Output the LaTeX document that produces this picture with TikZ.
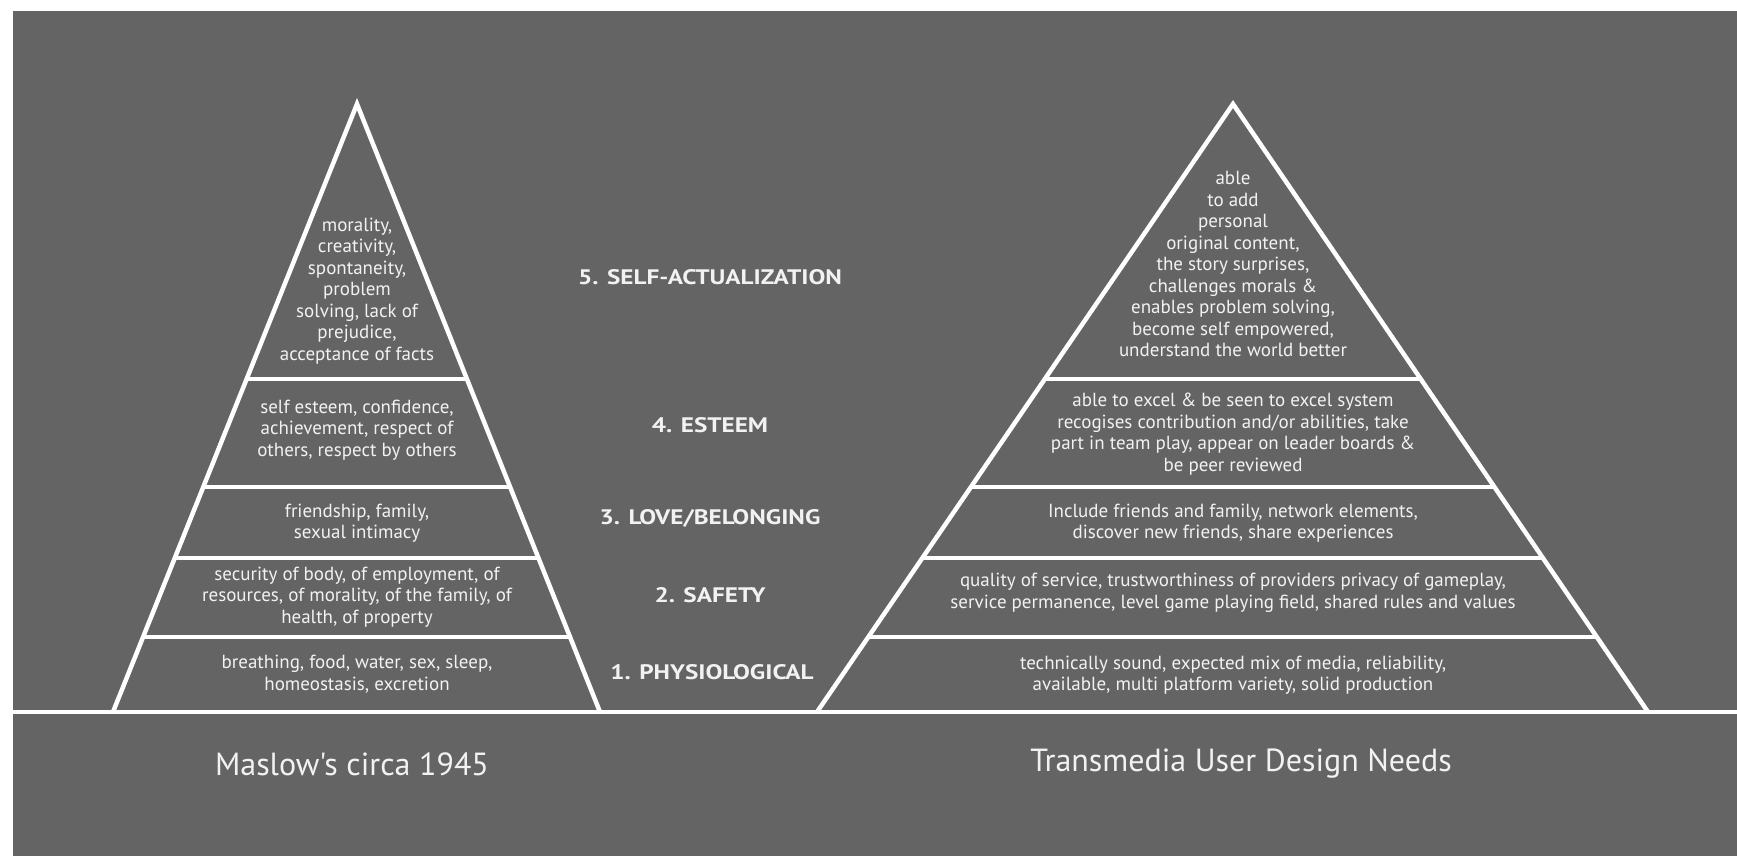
\documentclass[tikz,border=0pt]{standalone}
\usepackage{fontspec}
\setmainfont{PT Sans}
\newfontfamily\condfont{PT Sans}
\newfontfamily\levelfont[FakeStretch=1.2]{PT Sans}
\usetikzlibrary{calc}
\definecolor{bg}{HTML}{646464}
\definecolor{ink}{HTML}{F2F2F2}
\begin{document}
\begin{tikzpicture}[x=1pt,y=-1pt,
  wline/.style={draw=white,line width=4.5pt},
  tiertext/.style={text=ink,align=center,font=\condfont\fontsize{19}{21.5}\selectfont,inner sep=0pt},
  levellabel/.style={text=ink,font=\levelfont\bfseries\fontsize{21}{24}\selectfont,inner sep=0pt},
  captionlabel/.style={text=ink,font=\condfont\fontsize{32}{36}\selectfont,inner sep=0pt}]
\useasboundingbox (0,0) rectangle (1737,856);
\fill[white] (0,0) rectangle (1737,856);
\fill[bg] (13,11) rectangle (1737,856);
% key points
\coordinate (LA) at (357,104);
\coordinate (LL) at (113,712);
\coordinate (LR) at (600,712);
\coordinate (RA) at (1233,104);
\coordinate (RL) at (817,712);
\coordinate (RR) at (1648,712);
\coordinate (G0) at (13,712);
\coordinate (G1) at (1737,712);
% pyramids
\draw[wline] (LL) -- (LA) -- (LR);
\draw[wline] (RL) -- (RA) -- (RR);
\foreach \t in {0.4523,0.6299,0.7467,0.8766}{
  \draw[wline] ($(LA)!\t!(LL)$) -- ($(LA)!\t!(LR)$);
  \draw[wline] ($(RA)!\t!(RL)$) -- ($(RA)!\t!(RR)$);
}
\draw[wline] (G0) -- (G1);
% left texts
\node[tiertext] (L5) at (357,291) {morality,\\creativity,\\spontaneity,\\problem\\solving, lack of\\prejudice,\\acceptance of facts};
\node[tiertext] (L4) at (357,430) {self esteem, confidence,\\achievement, respect of\\others, respect by others};
\node[tiertext] (L3) at (357,523) {friendship, family,\\sexual intimacy};
\node[tiertext] (L2) at (357,597) {security of body, of employment, of\\resources, of morality, of the family, of\\health, of property};
\node[tiertext] (L1) at (357,674) {breathing, food, water, sex, sleep,\\homeostasis, excretion};
% right texts
\node[tiertext] (R5) at (1233,264) {able\\to add\\personal\\original content,\\the story surprises,\\challenges morals \&\\enables problem solving,\\become self empowered,\\understand the world better};
\node[tiertext] (R4) at (1233,434) {able to excel \& be seen to excel system\\recogises contribution and/or abilities, take\\part in team play, appear on leader boards \&\\be peer reviewed};
\node[tiertext] (R3) at (1233,523) {Include friends and family, network elements,\\discover new friends, share experiences};
\node[tiertext] (R2) at (1233,593) {quality of service, trustworthiness of providers privacy of gameplay,\\service permanence, level game playing field, shared rules and values};
\node[tiertext] (R1) at (1233,675) {technically sound, expected mix of media, reliability,\\available, multi platform variety, solid production};
% level labels
\node[levellabel] (V5) at (710,277) {5. SELF-ACTUALIZATION};
\node[levellabel] (V4) at (710,425) {4. ESTEEM};
\node[levellabel] (V3) at (710,518) {3. LOVE/BELONGING};
\node[levellabel] (V2) at (710,595) {2. SAFETY};
\node[levellabel] (V1) at (712,672) {1. PHYSIOLOGICAL};
% captions
\node[captionlabel] (C1) at (352,764) {Maslow's circa 1945};
\node[captionlabel] (C2) at (1241,764) {Transmedia User Design Needs};
\end{tikzpicture}
\end{document}
